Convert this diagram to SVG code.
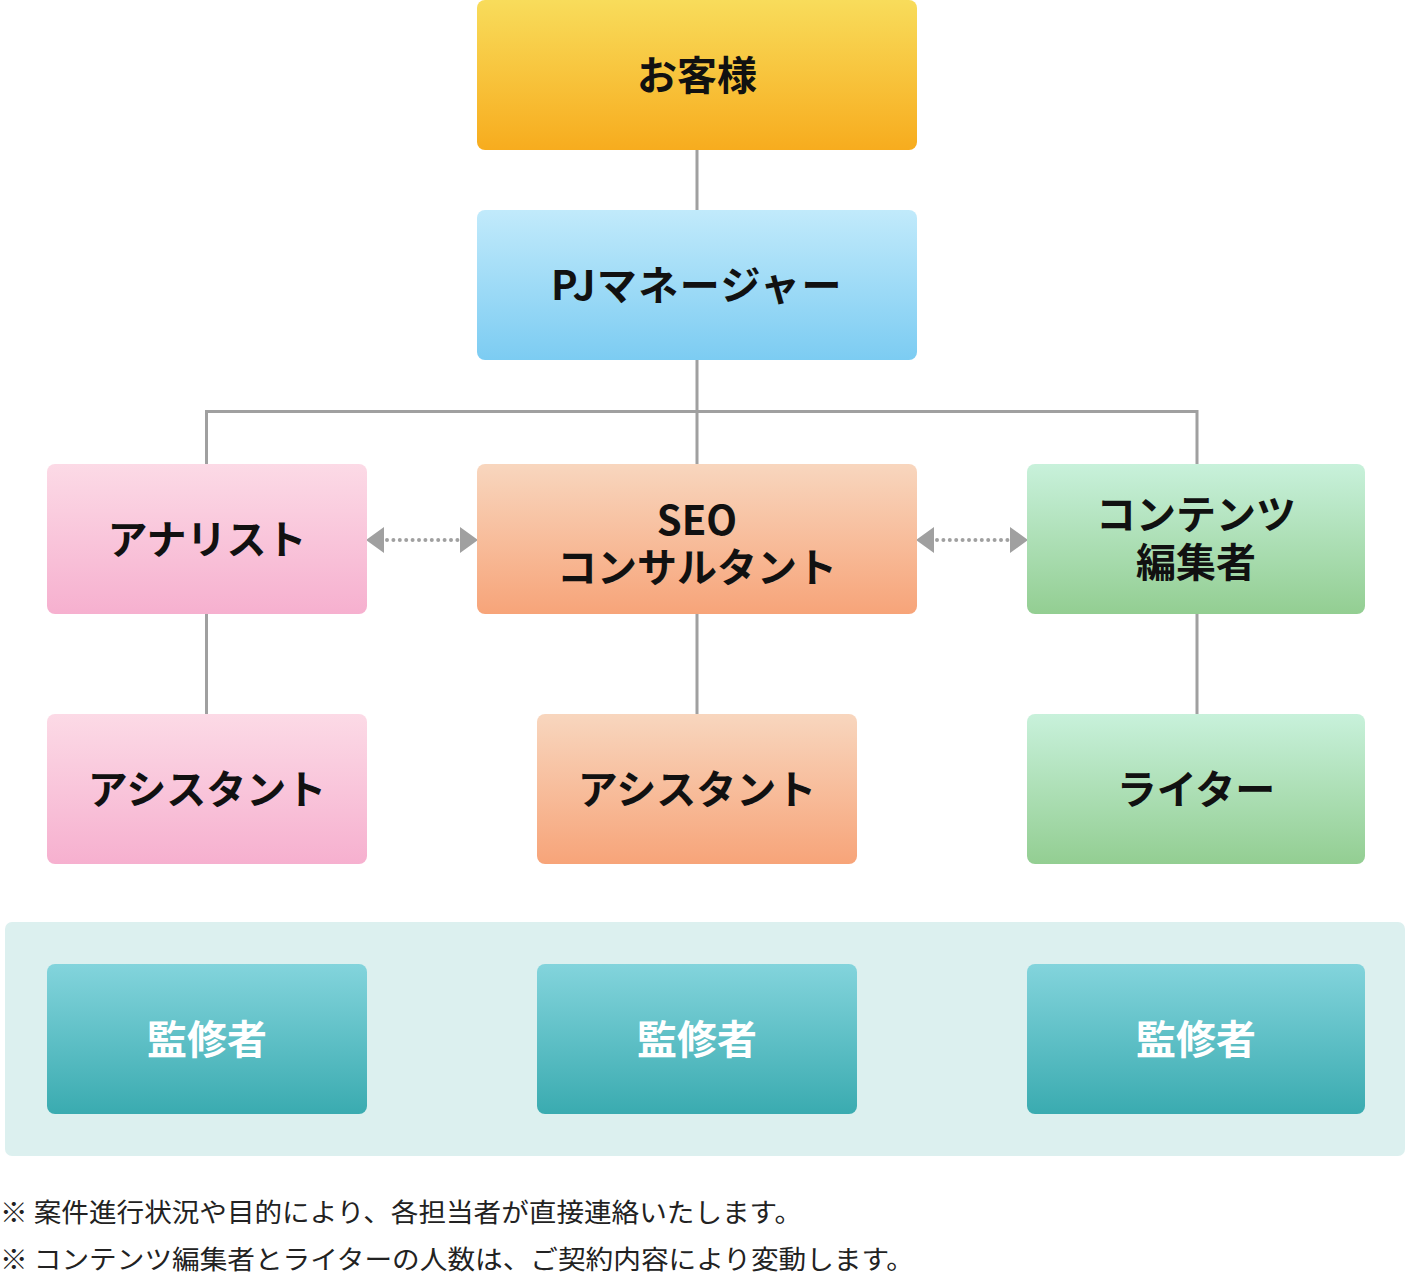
<svg xmlns="http://www.w3.org/2000/svg" width="1407" height="1274" viewBox="0 0 1407 1274">
<defs>
<linearGradient id="gY" x1="0" y1="0" x2="0" y2="1"><stop offset="0" stop-color="#F8DC5B"/><stop offset="1" stop-color="#F7AC1E"/></linearGradient>
<linearGradient id="gB" x1="0" y1="0" x2="0" y2="1"><stop offset="0" stop-color="#C1EAFB"/><stop offset="1" stop-color="#7CCCF2"/></linearGradient>
<linearGradient id="gP" x1="0" y1="0" x2="0" y2="1"><stop offset="0" stop-color="#FCDAE6"/><stop offset="1" stop-color="#F6B0CF"/></linearGradient>
<linearGradient id="gO" x1="0" y1="0" x2="0" y2="1"><stop offset="0" stop-color="#F8D6BE"/><stop offset="1" stop-color="#F7A479"/></linearGradient>
<linearGradient id="gG" x1="0" y1="0" x2="0" y2="1"><stop offset="0" stop-color="#C8F1DB"/><stop offset="1" stop-color="#93CE92"/></linearGradient>
<linearGradient id="gT" x1="0" y1="0" x2="0" y2="1"><stop offset="0" stop-color="#83D4DC"/><stop offset="1" stop-color="#3AABB0"/></linearGradient>
</defs>
<style>
.lbl{font-family:"Noto Sans CJK JP","Noto Sans",sans-serif;font-weight:700;font-size:40px;text-anchor:middle;fill:#111}
.wl{fill:#fff}
.note{font-family:"Noto Sans CJK JP","Noto Sans",sans-serif;font-size:26px;fill:#222}
.ln{stroke:#A0A0A0;stroke-width:3;fill:none}
.dot{stroke:#A0A0A0;stroke-width:4;stroke-linecap:round;stroke-dasharray:0 6.4;fill:none}
.ah{fill:#A0A0A0}
</style>
<rect x="5" y="922" width="1400" height="234" rx="7" fill="#DCF0EF"/>
<g id="connectors">
<path class="ln" d="M697,150 V210 M697,360 V464 M206.5,464 V411.5 H1197 V464 M206.5,614 V714 M697,614 V714 M1197,614 V714"/>
<path class="dot" d="M387,540 H458"/>
<path class="dot" d="M937,540 H1008"/>
<path class="ah" d="M366,540 L384,527 L384,553 Z M478,540 L460,527 L460,553 Z M916,540 L934,527 L934,553 Z M1028,540 L1010,527 L1010,553 Z"/>
</g>
<g id="customer"><rect x="477" y="0" width="440" height="150" rx="8" fill="url(#gY)"/><text class="lbl" x="697" y="90">お客様</text></g>
<g id="pm"><rect x="477" y="210" width="440" height="150" rx="8" fill="url(#gB)"/><text class="lbl" x="697" y="300" letter-spacing="1.5">PJマネージャー</text></g>
<g id="analyst"><rect x="47" y="464" width="320" height="150" rx="8" fill="url(#gP)"/><text class="lbl" x="207" y="554">アナリスト</text></g>
<g id="seo"><rect x="477" y="464" width="440" height="150" rx="8" fill="url(#gO)"/><text class="lbl" x="697" y="535">SEO</text><text class="lbl" x="697" y="582">コンサルタント</text></g>
<g id="editor"><rect x="1027" y="464" width="338" height="150" rx="8" fill="url(#gG)"/><text class="lbl" x="1196" y="529">コンテンツ</text><text class="lbl" x="1196" y="577">編集者</text></g>
<g id="assistant1"><rect x="47" y="714" width="320" height="150" rx="8" fill="url(#gP)"/><text class="lbl" x="207" y="804">アシスタント</text></g>
<g id="assistant2"><rect x="537" y="714" width="320" height="150" rx="8" fill="url(#gO)"/><text class="lbl" x="697" y="804">アシスタント</text></g>
<g id="writer"><rect x="1027" y="714" width="338" height="150" rx="8" fill="url(#gG)"/><text class="lbl" x="1196" y="804">ライター</text></g>
<g id="supervisor1"><rect x="47" y="964" width="320" height="150" rx="8" fill="url(#gT)"/><text class="lbl wl" x="207" y="1054">監修者</text></g>
<g id="supervisor2"><rect x="537" y="964" width="320" height="150" rx="8" fill="url(#gT)"/><text class="lbl wl" x="697" y="1054">監修者</text></g>
<g id="supervisor3"><rect x="1027" y="964" width="338" height="150" rx="8" fill="url(#gT)"/><text class="lbl wl" x="1196" y="1054">監修者</text></g>
<text class="note" x="0" y="1222" textLength="802" lengthAdjust="spacingAndGlyphs">※ 案件進行状況や目的により、各担当者が直接連絡いたします。</text>
<text class="note" x="0" y="1269" textLength="914" lengthAdjust="spacingAndGlyphs">※ コンテンツ編集者とライターの人数は、ご契約内容により変動します。</text>
</svg>
